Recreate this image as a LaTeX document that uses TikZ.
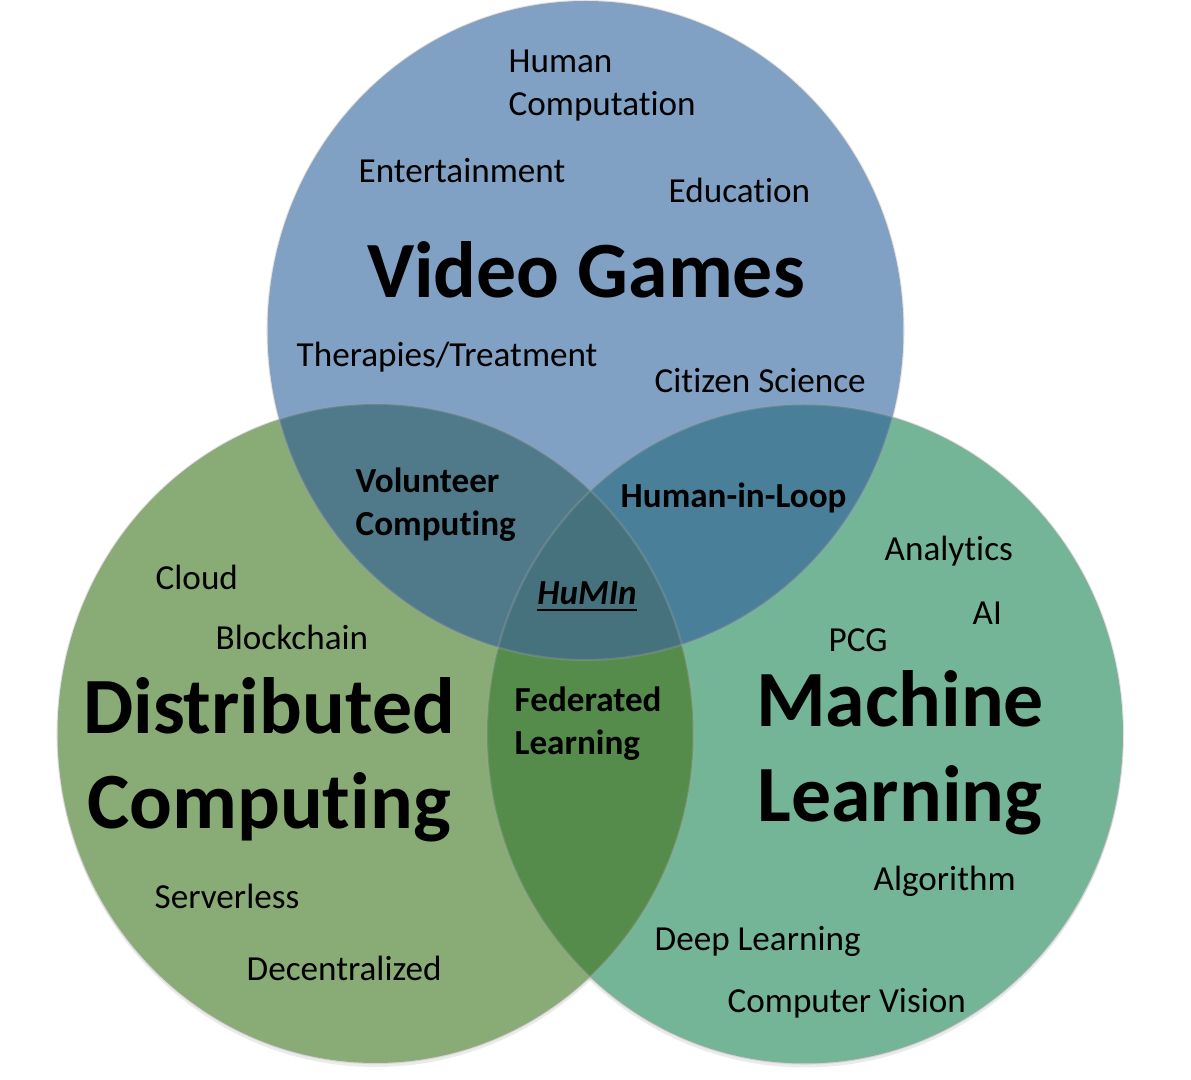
\documentclass[tikz,border=0pt]{standalone}
\usepackage{fontspec}
\setmainfont{Carlito}[Ligatures=NoCommon]
\usepackage{tikz}
\usetikzlibrary{positioning,calc}
% region colours
\definecolor{gamesblue}{RGB}{128,160,196}
\definecolor{distgreen}{RGB}{137,171,117}
\definecolor{mlgreen}{RGB}{117,181,151}
\definecolor{volblue}{RGB}{80,122,138}
\definecolor{loopblue}{RGB}{74,127,153}
\definecolor{fedgreen}{RGB}{86,140,75}
\definecolor{huminblue}{RGB}{70,114,126}
\tikzset{
  topic/.style={anchor=west, inner sep=0pt, align=left, font=\fontsize{10}{12.2}\selectfont},
  overlap/.style={anchor=west, inner sep=0pt, align=left, font=\bfseries\fontsize{10}{12.2}\selectfont},
  field/.style={anchor=center, inner sep=0pt, align=center, font=\bfseries\fontsize{22.7}{27}\selectfont},
  rim/.style={draw=black!35, draw opacity=0.3, line width=0.6pt}
}
\begin{document}
\begin{tikzpicture}
  \useasboundingbox (0,0) rectangle (11.91,-10.80);
  % centres of the three sets
  \coordinate (vg) at (5.855,-3.305);
  \coordinate (dc) at (3.755,-7.335);
  \coordinate (ml) at (8.05,-7.34);
  \def\rx{3.18}
  \def\ry{3.295}

  % faint shadows
  \fill[black, opacity=0.08] ($(dc)+(0,-0.04)$) ellipse ({\rx} and {\ry});
  \fill[black, opacity=0.08] ($(ml)+(0,-0.04)$) ellipse ({\rx} and {\ry});
  % plain sets
  \fill[distgreen] (dc) ellipse ({\rx} and {\ry});
  \fill[mlgreen] (ml) ellipse ({\rx} and {\ry});
  \fill[gamesblue] (vg) ellipse ({\rx} and {\ry});
  % pairwise overlaps
  \begin{scope}
    \clip (dc) ellipse ({\rx} and {\ry});
    \fill[fedgreen] (ml) ellipse ({\rx} and {\ry});
    \fill[volblue] (vg) ellipse ({\rx} and {\ry});
  \end{scope}
  \begin{scope}
    \clip (ml) ellipse ({\rx} and {\ry});
    \fill[loopblue] (vg) ellipse ({\rx} and {\ry});
  \end{scope}
  % triple overlap
  \begin{scope}
    \clip (dc) ellipse ({\rx} and {\ry});
    \clip (ml) ellipse ({\rx} and {\ry});
    \fill[huminblue] (vg) ellipse ({\rx} and {\ry});
  \end{scope}
  % soft rims
  \draw[rim] (dc) ellipse ({\rx} and {\ry});
  \draw[rim] (ml) ellipse ({\rx} and {\ry});
  \draw[rim] (vg) ellipse ({\rx} and {\ry});

  % video games
  \node[field] (games) at (5.86,-2.70) {Video Games};
  \node[topic] (humcomp) at (5.08,-0.86) {Human\\Computation};
  \node[topic] (entert) at (3.58,-1.71) {Entertainment};
  \node[topic] (educ) at (6.68,-1.90) {Education};
  \node[topic] (therap) at (2.96,-3.57) {Therapies/Treatment};
  \node[topic] (citsci) at (6.54,-3.81) {Citizen Science};

  % distributed computing
  \node[field] (distcomp) at (2.69,-7.60) {Distributed\\Computing};
  \node[topic] (cloud) at (1.55,-5.77) {Cloud};
  \node[topic] (block) at (2.15,-6.37) {Blockchain};
  \node[topic] (serverl) at (1.54,-8.96) {Serverless};
  \node[topic] (decent) at (2.46,-9.68) {Decentralized};

  % machine learning
  \node[field] (machlearn) at (9.00,-7.53) {Machine\\Learning};
  \node[topic] (analyt) at (8.84,-5.51) {Analytics};
  \node[topic] (ai) at (9.72,-6.13) {AI};
  \node[topic] (pcg) at (8.28,-6.40) {PCG};
  \node[topic] (algo) at (8.73,-8.81) {Algorithm};
  \node[topic] (deepl) at (6.54,-9.41) {Deep Learning};
  \node[topic] (compvis) at (7.27,-10.03) {Computer Vision};

  % overlaps
  \node[overlap] (volcomp) at (3.55,-5.05) {Volunteer\\Computing};
  \node[overlap] (hil) at (6.20,-4.98) {Human-in-Loop};
  \node[overlap] (fedlearn) at (5.14,-7.24) {Federated\\Learning};
  \node[anchor=center, inner sep=0pt, font=\bfseries\itshape\fontsize{10}{12.2}\selectfont] (humin) at (5.87,-5.97) {\underline{HuMIn}};
\end{tikzpicture}
\end{document}
